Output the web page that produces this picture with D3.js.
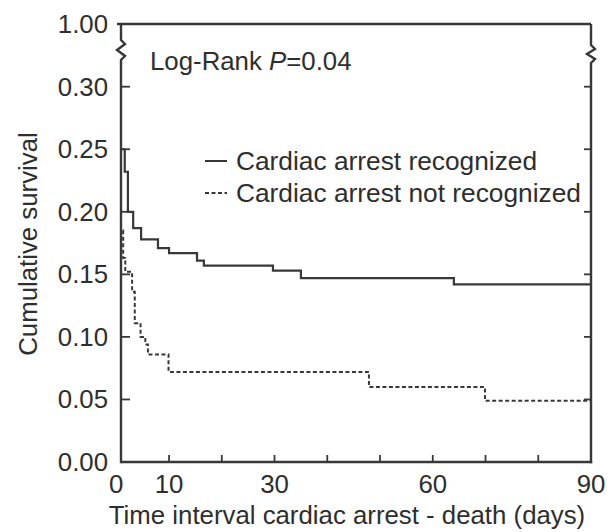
<!DOCTYPE html>
<html>
<head>
<meta charset="utf-8">
<script src="https://cdn.jsdelivr.net/npm/d3@7"></script>
<style>
  html, body { margin: 0; padding: 0; background: #fff; }
  svg { display: block; }
  text { font-family: "Liberation Sans", Arial, sans-serif; fill: #2e2e2e; }
</style>
</head>
<body>
<svg id="chart" width="612" height="532"></svg>
<script>
// ---- data ----
const xTickValues = [10, 20, 30, 40, 50, 60, 70, 80];
const xTickLabels = [0, 10, 30, 60, 90];
const yTickValues = [0.05, 0.10, 0.15, 0.20, 0.25, 0.30];
const yTickLabels = [0.00, 0.05, 0.10, 0.15, 0.20, 0.25, 0.30, 1.00];

const recognizedTimes    = [0, 1.6, 2.2, 3.2, 4.7, 7.9, 10.0, 15.3, 16.6, 29.7, 35.0, 64.0, 90];
const recognizedSurvival = [0.250, 0.232, 0.200, 0.187, 0.178, 0.171, 0.167, 0.161, 0.157, 0.153, 0.147, 0.142, 0.142];

const notRecognizedTimes    = [0, 1.3, 1.7, 3.0, 3.5, 4.6, 5.5, 6.0, 9.9, 47.9, 69.9, 90];
const notRecognizedSurvival = [0.185, 0.163, 0.152, 0.136, 0.111, 0.100, 0.094, 0.086, 0.072, 0.060, 0.049, 0.049];

const seriesNames = ["Cardiac arrest recognized", "Cardiac arrest not recognized"];

// ---- layout ----
const svg = d3.select("#chart");
const ink = "#383838";
const fontSize = 25.8;

const x = d3.scaleLinear().domain([0, 90]).range([116.3, 591]);
const y = d3.scaleLinear().domain([0, 0.30, 1.00]).range([462, 86.7, 24]);

const axisX = 121;           // left axis line position
const plotRight = x(90);
const plotBottom = y(0);
const plotTop = y(1);

// clip
svg.append("defs").append("clipPath").attr("id", "plotclip")
  .append("rect").attr("x", axisX).attr("y", plotTop).attr("width", plotRight - axisX).attr("height", plotBottom - plotTop);

// frame: top line, bottom axis
svg.append("line").attr("x1", axisX - 4).attr("x2", plotRight).attr("y1", plotTop).attr("y2", plotTop)
  .attr("stroke", ink).attr("stroke-width", 2.4);
svg.append("line").attr("x1", axisX).attr("x2", plotRight + 1.2).attr("y1", plotBottom).attr("y2", plotBottom)
  .attr("stroke", ink).attr("stroke-width", 2.4);

// vertical axes with break zigzag
function brokenAxis(ax, b0, b1) {
  const m = (b0 + b1) / 2;
  const pts = [
    [ax, plotTop], [ax, b0], [ax + 4, b0 + 4], [ax - 4, m], [ax + 4, b1 - 4], [ax, b1], [ax, plotBottom + 1.2]
  ];
  svg.append("path").attr("d", d3.line()(pts)).attr("fill", "none")
    .attr("stroke", ink).attr("stroke-width", 2.4).attr("stroke-linejoin", "miter");
}
brokenAxis(axisX, 40, 60);
brokenAxis(plotRight, 45, 63);

// y ticks (inward on both sides)
yTickValues.forEach(v => {
  svg.append("line").attr("x1", axisX).attr("x2", axisX + 9).attr("y1", y(v)).attr("y2", y(v))
    .attr("stroke", ink).attr("stroke-width", 1.8);
  svg.append("line").attr("x1", plotRight - 7).attr("x2", plotRight).attr("y1", y(v)).attr("y2", y(v))
    .attr("stroke", ink).attr("stroke-width", 1.8);
});
// x ticks (inward)
xTickValues.forEach(v => {
  svg.append("line").attr("x1", x(v)).attr("x2", x(v)).attr("y1", plotBottom).attr("y2", plotBottom - 7)
    .attr("stroke", ink).attr("stroke-width", 1.8);
});

// tick labels
yTickLabels.forEach(v => {
  svg.append("text").attr("x", 108).attr("y", y(v)).attr("dy", "0.35em")
    .attr("text-anchor", "end").attr("font-size", fontSize).text(d3.format(".2f")(v));
});
xTickLabels.forEach(v => {
  svg.append("text").attr("x", x(v)).attr("y", 493)
    .attr("text-anchor", "middle").attr("font-size", fontSize).text(v);
});

// axis titles
svg.append("text").attr("x", 347).attr("y", 524).attr("text-anchor", "middle")
  .attr("font-size", fontSize).text("Time interval cardiac arrest - death (days)");
svg.append("text").attr("transform", "translate(37,244) rotate(-90)").attr("text-anchor", "middle")
  .attr("font-size", fontSize).text("Cumulative survival");

// curves
const line = d3.line().x(d => x(d[0])).y(d => y(d[1])).curve(d3.curveStepAfter);
const g = svg.append("g").attr("clip-path", "url(#plotclip)");
g.append("path").attr("d", line(d3.zip(recognizedTimes, recognizedSurvival)))
  .attr("fill", "none").attr("stroke", ink).attr("stroke-width", 2.2);
g.append("path").attr("d", line(d3.zip(notRecognizedTimes, notRecognizedSurvival)))
  .attr("fill", "none").attr("stroke", ink).attr("stroke-width", 2).attr("stroke-dasharray", "4,2.5");

// log-rank annotation
const lr = svg.append("text").attr("x", 150).attr("y", 70).attr("font-size", fontSize);
lr.append("tspan").text("Log-Rank ");
lr.append("tspan").attr("font-style", "italic").text("P");
lr.append("tspan").text("=0.04");

// legend
const legendRows = [
  { name: seriesNames[0], dash: null, base: 170 },
  { name: seriesNames[1], dash: "4,2.5", base: 202 }
];
legendRows.forEach(r => {
  const ly = r.base - 9;
  const l = svg.append("line").attr("x1", 205).attr("x2", 227).attr("y1", ly).attr("y2", ly)
    .attr("stroke", ink).attr("stroke-width", 2);
  if (r.dash) l.attr("stroke-dasharray", r.dash);
  svg.append("text").attr("x", 236).attr("y", r.base).attr("font-size", 26.3).text(r.name);
});
</script>
</body>
</html>
